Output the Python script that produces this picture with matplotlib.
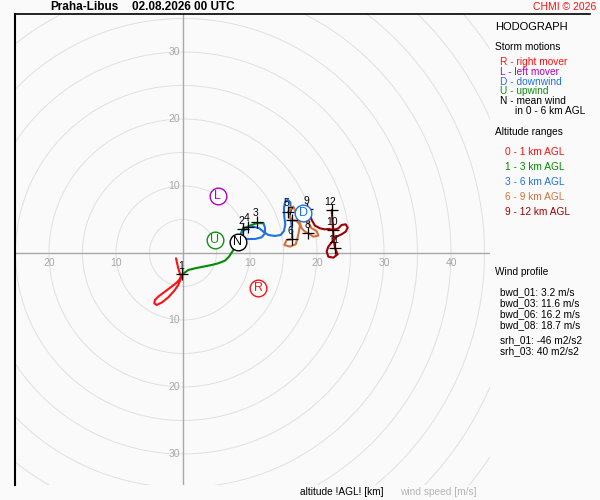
import numpy as np
import matplotlib
matplotlib.use("Agg")
import matplotlib.pyplot as plt
from matplotlib.lines import Line2D

plt.rcParams['font.family'] = ['Liberation Sans', 'DejaVu Sans']

# hodograph traces (u, v) in m/s, per altitude layer
u_0_1 = [-1.04, -0.90, -0.70, -0.50, -0.30, -0.50, -0.95, -1.70, -2.69, -3.58, -4.18, -4.28,
         -3.93, -3.18, -2.19, -1.29, -0.70, -0.40, -0.10]
v_0_1 = [-0.80, -1.44, -2.29, -2.93, -3.43, -3.93, -4.43, -5.02, -5.77, -6.42, -7.01, -7.51,
         -7.76, -7.41, -6.62, -5.62, -4.78, -4.03, -3.18]
u_1_3 = [-0.10, 0.80, 1.79, 3.03, 4.28, 5.27, 6.27, 6.87, 7.36, 7.76, 8.10, 8.50, 8.90, 9.90, 11.0, 12.0]
v_1_3 = [-3.18, -2.54, -2.29, -2.04, -1.79, -1.54, -1.14, -0.55, 0.20, 0.85, 1.50, 2.40, 3.60, 4.05, 4.45, 4.45]
u_3_6 = [12.0, 12.24, 12.24, 11.74, 10.75, 9.50, 8.76, 8.76, 9.40, 9.75, 10.50, 11.39, 11.99, 12.74,
         13.73, 14.58, 15.07, 15.27, 15.12, 15.07, 15.22, 15.62, 16.02, 16.07, 15.72, 16.12, 16.27, 16.30]
v_3_6 = [4.45, 3.78, 2.94, 2.34, 2.09, 2.09, 2.44, 3.08, 3.58, 3.93, 3.93, 3.68, 3.18, 2.69,
         2.54, 2.69, 3.28, 4.28, 5.42, 6.67, 7.56, 7.96, 7.56, 6.67, 6.17, 4.93, 3.43, 2.05]
u_6_9 = [16.30, 15.47, 15.12, 15.97, 16.82, 17.11, 17.31, 17.46, 16.97, 16.22, 15.82, 15.97, 16.47,
         16.82, 17.21, 17.71, 18.21, 18.71, 19.45, 20.20, 19.95, 19.20, 18.71, 18.46, 18.56]
v_6_9 = [2.05, 1.94, 1.19, 0.95, 1.29, 2.29, 3.28, 4.18, 4.78, 4.93, 5.67, 6.67, 6.92,
         6.17, 5.17, 3.68, 3.18, 2.94, 2.44, 2.59, 3.28, 3.68, 4.43, 5.42, 6.57]
u_9_12 = [18.56, 18.86, 19.20, 19.70, 20.45, 21.19, 21.79, 22.44, 23.18, 23.68, 24.28, 24.58, 24.28,
          23.68, 22.94, 22.29, 21.69, 21.44, 21.69, 22.44, 23.08, 22.69, 22.49, 22.39, 22.29, 22.19]
v_9_12 = [6.57, 5.92, 4.93, 4.08, 3.68, 3.53, 3.58, 3.43, 3.68, 4.18, 4.28, 3.78, 3.18,
          2.79, 2.44, 1.69, 0.95, 0.20, -0.55, -0.70, -0.20, 0.70, 1.94, 3.43, 4.93, 6.42]

layer_colors = ['#ff1010', '#008c00', '#2070e0', '#d2733c', '#a00000']

# km height markers
km_labels = ['1', '2', '3', '4', '5', '6', '7', '8', '9', '10', '11', '12']
km_u = [-0.10, 8.90, 11.0, 9.75, 15.72, 16.30, 16.22, 18.71, 18.56, 22.44, 22.69, 22.19]
km_v = [-3.18, 3.60, 4.68, 3.93, 6.17, 2.05, 4.93, 2.94, 6.57, 3.43, 0.70, 6.42]

# storm motions
storm_letters = ['R', 'L', 'D', 'U', 'N']
storm_u = [11.24, 5.17, 17.96, 4.78, 8.16]
storm_v = [-5.27, 8.51, 6.02, 1.94, 1.69]
storm_colors = ['#ff1010', '#b000c0', '#2070e0', '#109010', '#000000']

x_ticks = [-20, -10, 10, 20, 30, 40]
y_ticks = [-30, -20, -10, 10, 20, 30]

bwd_names = ['bwd_01', 'bwd_03', 'bwd_06', 'bwd_08']
bwd_values = [3.2, 11.6, 16.2, 18.7]
srh_names = ['srh_01', 'srh_03']
srh_values = [-46, 40]

W, H = 600, 500
bg = '#fafafa'
fig = plt.figure(figsize=(6, 5), dpi=100, facecolor=bg)


def px(x, y):
    return x / W, 1 - y / H


ax = fig.add_axes([15 / W, 15 / H, 475 / W, 471 / H], facecolor=bg)
ax.set_xlim(-25.07, 45.82)
ax.set_ylim(-34.63, 35.67)
for s in ['top', 'right', 'bottom']:
    ax.spines[s].set_visible(False)
ax.spines['left'].set_color('black')
ax.spines['left'].set_linewidth(1.5)
ax.set_xticks([])
ax.set_yticks([])

# range rings
theta = np.linspace(0, 2 * np.pi, 400)
for r in range(5, 65, 5):
    ax.plot(r * np.cos(theta), r * np.sin(theta), color='#e0e0e0', lw=0.7, zorder=1)
ax.axhline(0, color='#a8a8a8', lw=1, zorder=2)
ax.axvline(0, color='#a8a8a8', lw=1, zorder=2)

for t in x_ticks:
    ax.annotate(str(abs(t)), (t, 0), xytext=(0, -7), textcoords='offset points',
                ha='center', va='center', fontsize=7.5, color='#a8a8a8', zorder=3)
for t in y_ticks:
    ax.annotate(str(abs(t)), (0, t), xytext=(-2, 0), textcoords='offset points',
                ha='right', va='center', fontsize=7.5, color='#a8a8a8', zorder=3)

# hodograph
layers = [(u_0_1, v_0_1), (u_1_3, v_1_3), (u_3_6, v_3_6), (u_6_9, v_6_9), (u_9_12, v_9_12)]
for (u, v), c in zip(layers, layer_colors):
    ax.plot(u, v, color=c, lw=1.5, solid_capstyle='round', solid_joinstyle='round', zorder=4)

ax.plot(km_u, km_v, '+', color='black', ms=9, mew=0.9, zorder=5)
for lab, u, v in zip(km_labels, km_u, km_v):
    ax.annotate(lab, (u, v), xytext=(-1, 6), textcoords='offset points',
                ha='center', va='center', fontsize=7.5, color='black', zorder=6)

for lab, u, v, c in zip(storm_letters, storm_u, storm_v, storm_colors):
    ax.plot(u, v, 'o', ms=12, mfc='white', mec=c, mew=1, zorder=7)
    ax.text(u, v, lab, ha='center', va='center', fontsize=9, color=c, zorder=8)

# frame line on top
fig.add_artist(Line2D([15 / W, 590 / W], [1 - 14 / H, 1 - 14 / H], color='black', lw=1.2))

# title
fig.text(*px(50, 7), 'Praha-Libus', fontsize=8.5, fontweight='bold', va='center')
fig.text(*px(132, 7), '02.08.2026 00 UTC', fontsize=8.5, fontweight='bold', va='center')
fig.text(*px(596, 7), 'CHMI © 2026', fontsize=7.5, color='#ff1010', ha='right', va='center')

# right panel
fs = 7.3
fig.text(*px(495, 27), 'HODOGRAPH', fontsize=8, va='center')
fig.text(*px(495, 47), 'Storm motions', fontsize=fs, va='center')
storm_text = ['R - right mover', 'L - left mover', 'D - downwind', 'U - upwind', 'N - mean wind']
for i, (t, c) in enumerate(zip(storm_text, storm_colors)):
    fig.text(*px(500, 62 + i * 9.8), t, fontsize=fs, color=c, va='center')
fig.text(*px(515, 111), 'in 0 - 6 km AGL', fontsize=fs, va='center')

fig.text(*px(495, 132), 'Altitude ranges', fontsize=fs, va='center')
layer_text = ['0 - 1 km AGL', '1 - 3 km AGL', '3 - 6 km AGL', '6 - 9 km AGL', '9 - 12 km AGL']
for i, (t, c) in enumerate(zip(layer_text, layer_colors)):
    fig.text(*px(505, 152 + i * 15), t, fontsize=fs, color=c, va='center')

fig.text(*px(495, 272), 'Wind profile', fontsize=fs, va='center')
for i, (n, val) in enumerate(zip(bwd_names, bwd_values)):
    fig.text(*px(500, 292 + i * 11), f'{n}: {val} m/s', fontsize=fs, va='center')
for i, (n, val) in enumerate(zip(srh_names, srh_values)):
    fig.text(*px(500, 340 + i * 11), f'{n}: {val} m2/s2', fontsize=fs, va='center')

# bottom captions
fig.text(*px(300, 492), 'altitude !AGL! [km]', fontsize=fs, va='center')
fig.text(*px(400, 492), 'wind speed [m/s]', fontsize=fs, color='#b4b4b4', va='center')

fig.savefig('out.png', dpi=100, facecolor=bg)
